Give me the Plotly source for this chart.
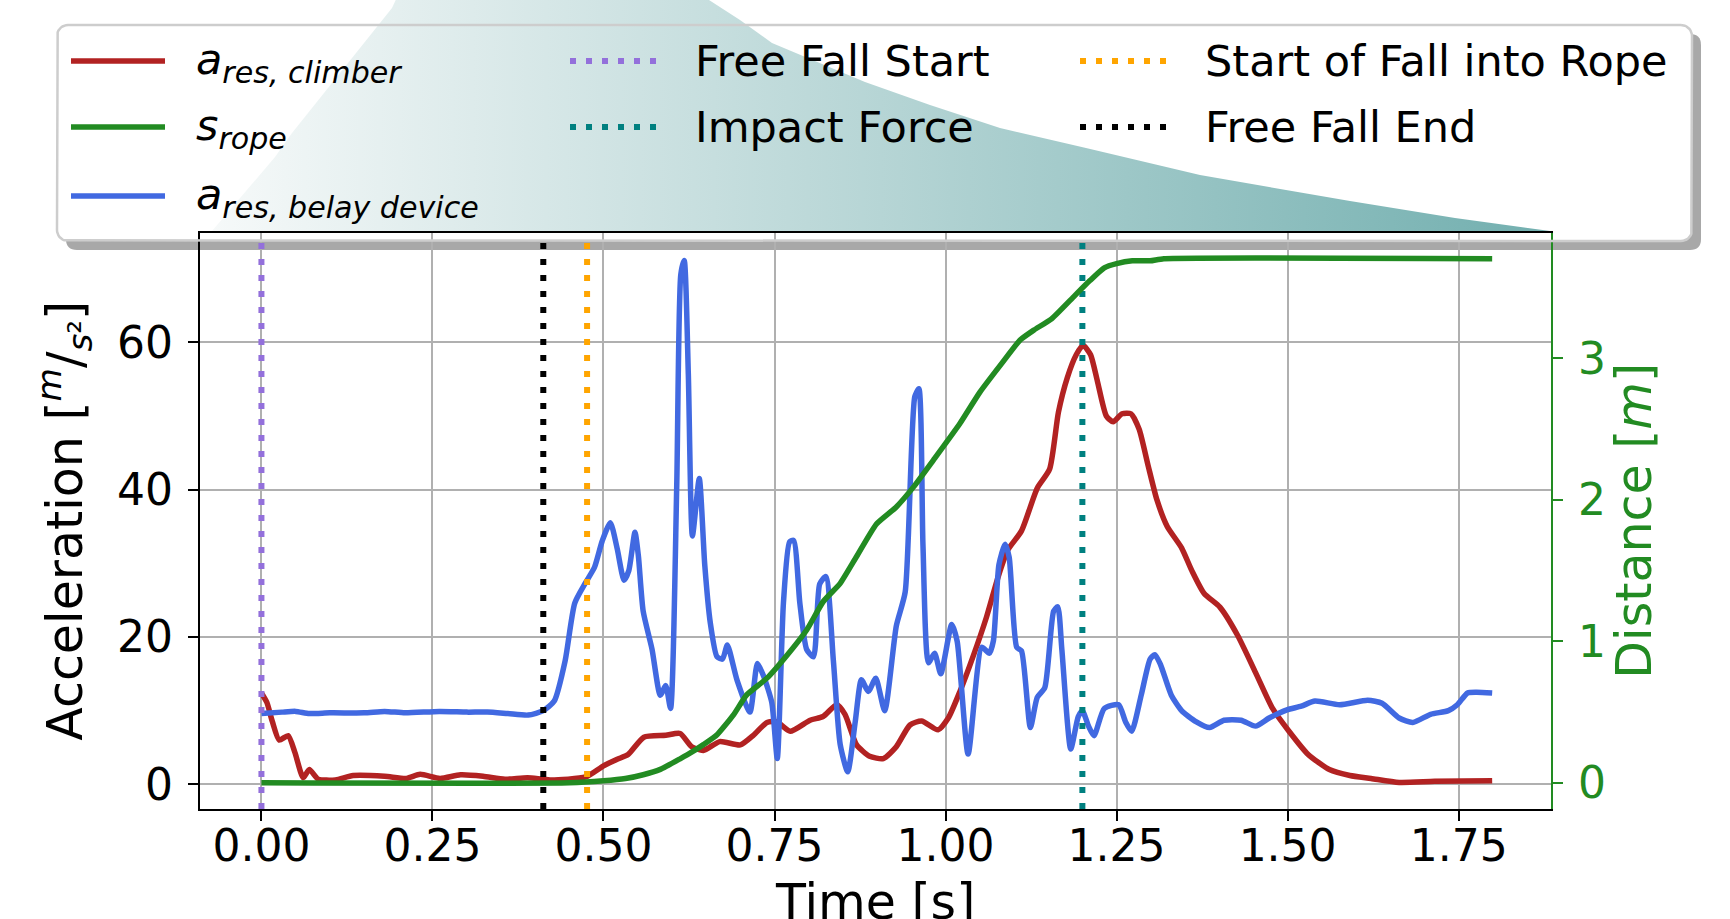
import numpy as np
import plotly.graph_objects as go

W, H = 1730, 919

# ---------------- data ----------------
t_belay = [0.0, 0.03, 0.05, 0.07, 0.10, 0.15, 0.18, 0.21, 0.26, 0.30, 0.33, 0.36, 0.39, 0.412,
           0.428, 0.444, 0.458, 0.474, 0.487, 0.498, 0.510, 0.520, 0.530, 0.537, 0.546, 0.551,
           0.558, 0.571, 0.583, 0.591, 0.598, 0.607, 0.613, 0.618, 0.624, 0.630, 0.640, 0.648,
           0.656, 0.666, 0.674, 0.681, 0.695, 0.714, 0.725, 0.734, 0.746, 0.754, 0.763, 0.772,
           0.778, 0.787, 0.797, 0.807, 0.816, 0.825, 0.836, 0.846, 0.857, 0.868, 0.877, 0.887,
           0.898, 0.911, 0.928, 0.941, 0.955, 0.961, 0.967, 0.975, 0.984, 0.993, 1.009, 1.017,
           1.033, 1.053, 1.064, 1.070, 1.078, 1.087, 1.093, 1.104, 1.111, 1.124, 1.134, 1.145,
           1.158, 1.164, 1.170, 1.183, 1.194, 1.200, 1.209, 1.217, 1.232, 1.253, 1.263, 1.272,
           1.286, 1.299, 1.306, 1.314, 1.330, 1.345, 1.366, 1.386, 1.407, 1.432, 1.453, 1.473,
           1.499, 1.520, 1.540, 1.576, 1.617, 1.638, 1.663, 1.683, 1.709, 1.735, 1.748, 1.763,
           1.776, 1.799]
a_belay = [9.6, 9.8, 9.9, 9.6, 9.7, 9.7, 9.9, 9.7, 9.9, 9.8, 9.8, 9.6, 9.4, 10.0,
           11.3, 16.8, 24.6, 27.4, 29.5, 33.0, 35.5, 32.0, 27.7, 29.0, 34.2, 31.0,
           23.5, 18.3, 12.1, 13.4, 10.3, 40.2, 69.2, 71.1, 55.7, 33.7, 41.5, 29.8,
           22.0, 17.3, 17.0, 18.9, 14.2, 9.8, 16.4, 14.7, 11.1, 3.5, 24.6, 32.9,
           33.1, 24.6, 18.3, 17.3, 27.2, 28.2, 16.8, 5.4, 1.7, 8.5, 14.2, 12.6,
           14.4, 10.0, 21.5, 26.1, 52.6, 53.7, 32.4, 16.5, 17.8, 15.0, 21.7, 19.4,
           4.1, 18.6, 17.8, 19.5, 29.8, 32.6, 30.8, 18.6, 18.1, 7.7, 11.8, 13.1,
           23.5, 24.1, 18.3, 4.8, 9.2, 10.0, 7.9, 6.6, 10.3, 10.8, 8.5, 7.2,
           12.1, 17.0, 17.6, 16.3, 12.1, 10.0, 8.5, 7.7, 8.7, 8.7, 7.9, 9.0,
           10.1, 10.6, 11.3, 10.8, 11.4, 11.0, 9.0, 8.4, 9.5, 10.0, 10.8, 12.4,
           12.5, 12.4]

t_climber = [0.0, 0.008, 0.016, 0.026, 0.039, 0.049, 0.061, 0.070, 0.083, 0.108, 0.134, 0.180,
             0.212, 0.232, 0.261, 0.291, 0.324, 0.356, 0.389, 0.422, 0.474, 0.500, 0.520, 0.536,
             0.559, 0.591, 0.612, 0.629, 0.646, 0.670, 0.700, 0.719, 0.739, 0.753, 0.773, 0.802,
             0.821, 0.841, 0.853, 0.870, 0.889, 0.909, 0.928, 0.948, 0.965, 0.989, 1.004, 1.021,
             1.040, 1.060, 1.077, 1.091, 1.111, 1.134, 1.152, 1.165, 1.178, 1.191, 1.201, 1.212,
             1.222, 1.235, 1.245, 1.258, 1.271, 1.283, 1.296, 1.309, 1.324, 1.345, 1.360, 1.378,
             1.401, 1.427, 1.453, 1.478, 1.502, 1.530, 1.561, 1.591, 1.622, 1.663, 1.715, 1.799]
a_climber = [12.4, 11.1, 8.5, 6.0, 6.6, 4.3, 0.9, 2.0, 0.7, 0.6, 1.2, 1.1,
             0.8, 1.35, 0.8, 1.3, 1.1, 0.7, 0.9, 0.6, 1.0, 2.5, 3.4, 4.05,
             6.4, 6.65, 6.9, 5.1, 4.6, 5.8, 5.35, 6.65, 8.4, 8.5, 7.2, 8.7,
             9.2, 10.8, 9.5, 5.35, 3.8, 3.5, 5.1, 8.05, 8.6, 7.4, 9.0, 12.6,
             17.3, 22.75, 28.2, 31.8, 34.4, 40.2, 42.75, 50.5, 55.2, 58.3, 59.6, 58.3,
             54.7, 50.0, 49.2, 50.3, 50.3, 48.2, 43.3, 38.6, 35.0, 32.1, 29.0, 25.9,
             24.05, 20.2, 15.2, 10.3, 7.2, 4.05, 2.0, 1.2, 0.8, 0.26, 0.4, 0.5]

t_rope = [0.0, 0.45, 0.500, 0.532, 0.558, 0.583, 0.612, 0.630, 0.646, 0.666, 0.690, 0.709,
          0.739, 0.768, 0.797, 0.821, 0.846, 0.870, 0.899, 0.928, 0.953, 0.982, 1.021, 1.050,
          1.083, 1.109, 1.129, 1.155, 1.186, 1.211, 1.232, 1.250, 1.273, 1.299, 1.319, 1.799]
s_rope = [0.0, 0.0, 0.014, 0.030, 0.057, 0.095, 0.170, 0.220, 0.270, 0.340, 0.480, 0.620,
          0.740, 0.900, 1.080, 1.280, 1.410, 1.600, 1.830, 1.950, 2.090, 2.280, 2.540, 2.760,
          2.970, 3.130, 3.200, 3.280, 3.430, 3.550, 3.640, 3.670, 3.690, 3.690, 3.705, 3.705]

event_names = ["Free Fall Start", "Impact Force", "Start of Fall into Rope", "Free Fall End"]
event_times = [0.0, 1.2, 0.476, 0.412]
event_colors = ["mediumpurple", "teal", "orange", "black"]

x_ticks = [0.0, 0.25, 0.5, 0.75, 1.0, 1.25, 1.5, 1.75]
x_tick_labels = ["0.00", "0.25", "0.50", "0.75", "1.00", "1.25", "1.50", "1.75"]
y_ticks = [0, 20, 40, 60]
y2_ticks = [0, 1, 2, 3]

# decorative teal swoosh outline (pixel coordinates of the picture)
swoosh_x = [212, 230, 256, 275, 292, 312, 332, 352, 372, 392, 405, 700, 709, 740, 772, 820, 865,
            930, 1000, 1086, 1200, 1350, 1455, 1550, 212]
swoosh_y = [231, 210, 180, 157, 133, 108, 83, 58, 33, 8, -20, -20, 0, 20, 43, 63, 82,
            105, 128, 148, 175, 201, 218, 231, 231]

# ---------------- styling ----------------
FONT = "DejaVu Sans"
RED, GREEN, BLUE = "#b22222", "#228b22", "#4169e1"
LW = 5.5
DOT = "6px,10px"
X_RANGE = [-0.0898, 1.885]
Y_RANGE = [-3.35, 74.9]
Y2_RANGE = [-0.185, 3.89]

PL, PR, PT, PB = 200, 1551, 232.5, 809

fig = go.Figure()

fig.add_trace(go.Scatter(x=t_climber, y=a_climber, mode="lines", name="a_res,climber",
                         line=dict(color=RED, width=LW, shape="spline", smoothing=0.6),
                         showlegend=False))
fig.add_trace(go.Scatter(x=t_belay, y=a_belay, mode="lines", name="a_res,belay device",
                         line=dict(color=BLUE, width=LW, shape="spline", smoothing=0.6),
                         showlegend=False))
for nm, tv, col in zip(event_names, event_times, event_colors):
    fig.add_trace(go.Scatter(x=[tv, tv], y=Y_RANGE, mode="lines", name=nm,
                             line=dict(color=col, width=6, dash=DOT), showlegend=False))
fig.add_trace(go.Scatter(x=t_rope, y=s_rope, mode="lines", name="s_rope", yaxis="y2",
                         line=dict(color=GREEN, width=LW, shape="spline", smoothing=0.5),
                         showlegend=False))

# ---------------- legend frame (paper shapes under the plot) ----------------
def px_x(x):
    return x / W


def px_y(y):
    return 1 - y / H


def rr_path(x0, y0, x1, y1, r):
    X, Y = px_x, px_y
    return (f"M {X(x0 + r)},{Y(y0)} L {X(x1 - r)},{Y(y0)} Q {X(x1)},{Y(y0)} {X(x1)},{Y(y0 + r)} "
            f"L {X(x1)},{Y(y1 - r)} Q {X(x1)},{Y(y1)} {X(x1 - r)},{Y(y1)} "
            f"L {X(x0 + r)},{Y(y1)} Q {X(x0)},{Y(y1)} {X(x0)},{Y(y1 - r)} "
            f"L {X(x0)},{Y(y0 + r)} Q {X(x0)},{Y(y0)} {X(x0 + r)},{Y(y0)} Z")


def rounded_rect(x0, y0, x1, y1, r, n=10):
    xs, ys = [], []
    corners = [(x1 - r, y0 + r, -90, 0), (x1 - r, y1 - r, 0, 90),
               (x0 + r, y1 - r, 90, 180), (x0 + r, y0 + r, 180, 270)]
    for cx, cy, a0, a1 in corners:
        for a in np.linspace(np.radians(a0), np.radians(a1), n):
            xs.append(cx + r * np.cos(a))
            ys.append(cy + r * np.sin(a))
    xs.append(xs[0])
    ys.append(ys[0])
    return xs, ys


LX0, LY0, LX1, LY1 = 57, 25, 1692, 241
fig.add_shape(type="path", path=rr_path(LX0 + 9, LY0 + 9, LX1 + 9, LY1 + 9, 11),
              xref="paper", yref="paper", layer="below",
              fillcolor="rgb(168,168,168)", line=dict(width=0))
fig.add_shape(type="path", path=rr_path(LX0, LY0, LX1, LY1, 11),
              xref="paper", yref="paper", layer="below",
              fillcolor="white", line=dict(width=0))

# swoosh + frame outline + legend samples on a full-picture overlay axis
fig.add_trace(go.Scatter(x=swoosh_x, y=swoosh_y, xaxis="x3", yaxis="y3", mode="lines",
                         fill="toself", line=dict(width=0, color="rgba(0,0,0,0)"),
                         fillgradient=dict(type="horizontal", start=212, stop=1550,
                                           colorscale=[[0, "rgb(246,249,249)"],
                                                       [0.5, "rgb(182,213,213)"],
                                                       [1, "rgb(114,175,175)"]]),
                         hoverinfo="skip", showlegend=False))
bx, by = rounded_rect(LX0, LY0, LX1, LY1, 11)
fig.add_trace(go.Scatter(x=bx, y=by, xaxis="x3", yaxis="y3", mode="lines",
                         line=dict(width=2.5, color="rgb(205,205,205)"),
                         hoverinfo="skip", showlegend=False))

leg_labels = ["<i>a</i><sub><i>res, climber</i></sub>",
              "<i>s</i><sub><i>rope</i></sub>",
              "<i>a</i><sub><i>res, belay device</i></sub>",
              "Free Fall Start", "Impact Force",
              "Start of Fall into Rope", "Free Fall End"]
leg_colors = [RED, GREEN, BLUE] + event_colors
leg_dash = [None, None, None, DOT, DOT, DOT, DOT]
leg_col_x = [71, 71, 71, 570, 570, 1080, 1080]
leg_row_y = [61, 127, 196, 61, 127, 61, 127]
leg_math = [True, True, True, False, False, False, False]
for lab, col, dsh, lx, ly, mth in zip(leg_labels, leg_colors, leg_dash, leg_col_x, leg_row_y, leg_math):
    fig.add_trace(go.Scatter(x=[lx, lx + 94], y=[ly, ly], xaxis="x3", yaxis="y3", mode="lines",
                             line=dict(color=col, width=5.5 if dsh is None else 6, dash=dsh),
                             hoverinfo="skip", showlegend=False))
    fig.add_annotation(x=lx + 123, y=ly + (1 if mth else 0), xref="x3", yref="y3",
                       xanchor="left", yanchor="middle", showarrow=False, text=lab,
                       font=dict(family=FONT, size=43, color="black"))

# x-axis title (partly cut by the bottom edge, as in the source picture)
fig.add_annotation(x=(PL + PR) / 2 / W, y=px_y(872), xref="paper", yref="paper",
                   xanchor="center", yanchor="top", showarrow=False, text="Time [s]",
                   font=dict(family=FONT, size=49, color="black"))

axis_common = dict(tickfont=dict(family=FONT, size=44, color="black"), ticks="outside",
                   ticklen=10, tickwidth=2.2, tickcolor="black", showline=True,
                   linewidth=2.2, linecolor="black", zeroline=False, automargin=False)

fig.update_layout(
    template="none",
    width=W, height=H,
    margin=dict(l=0, r=0, t=0, b=0, autoexpand=False),
    paper_bgcolor="white", plot_bgcolor="rgba(0,0,0,0)",
    font=dict(family=FONT, color="black"),
    showlegend=False,
    xaxis=dict(domain=[PL / W, PR / W], range=X_RANGE, tickvals=x_ticks, ticktext=x_tick_labels,
               showgrid=True, gridcolor="#b0b0b0", gridwidth=2, mirror=True,
               ticklabelstandoff=-13, **axis_common),
    yaxis=dict(domain=[1 - PB / H, 1 - PT / H], range=Y_RANGE, tickvals=y_ticks,
               showgrid=True, gridcolor="#b0b0b0", gridwidth=2,
               title=dict(text="Acceleration [<sup><i>m</i></sup>/<sub><i>s</i>²</sub>]",
                          font=dict(family=FONT, size=49), standoff=19),
               ticklabelstandoff=6, **axis_common),
    yaxis2=dict(overlaying="y", side="right", range=Y2_RANGE, tickvals=y2_ticks, showgrid=False,
                zeroline=False, ticks="outside", ticklen=10, tickwidth=2.2, tickcolor=GREEN,
                showline=True, linewidth=2.2, linecolor=GREEN, automargin=False,
                tickfont=dict(family=FONT, size=44, color=GREEN),
                title=dict(text="Distance [<i>m</i>]", font=dict(family=FONT, size=49, color=GREEN),
                           standoff=8),
                ticklabelstandoff=6),
    xaxis3=dict(domain=[0, 1], range=[0, W], visible=False, fixedrange=True),
    yaxis3=dict(domain=[0, 1], range=[H, 0], visible=False, fixedrange=True),
)

fig.write_html("out.html")
